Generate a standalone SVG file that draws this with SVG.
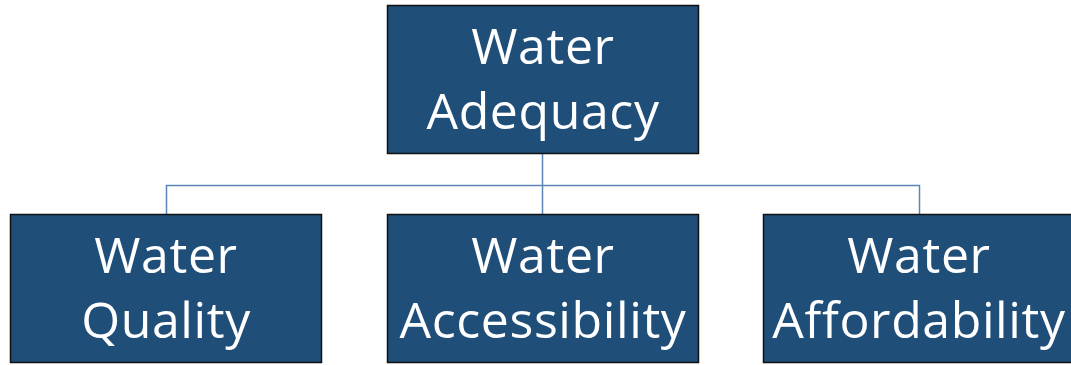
<svg xmlns="http://www.w3.org/2000/svg" width="1071" height="365" viewBox="0 0 1071 365">
<style>
.box{fill:#1f4e79;stroke:#111;stroke-width:1.5}
.t{fill:#fff;font-family:"Open Sans","Noto Sans",sans-serif;font-size:50px;letter-spacing:0.6px;text-anchor:middle}
.c{fill:none;stroke:#5b87b8;stroke-width:1.5}
</style>
<rect width="1071" height="365" fill="#fff"/>
<g id="connectors">
<path class="c" d="M542.5 154V214M166.5 214V185.5H919.5V214"/>
</g>
<g id="n-adequacy">
<rect class="box" x="387.5" y="5.5" width="311" height="148"/>
<text class="t" x="543" y="64">Water</text>
<text class="t" x="543" y="129">Adequacy</text>
</g>
<g id="n-quality">
<rect class="box" x="10.5" y="214.5" width="311" height="148"/>
<text class="t" x="166" y="273">Water</text>
<text class="t" x="166" y="338">Quality</text>
</g>
<g id="n-accessibility">
<rect class="box" x="387.5" y="214.5" width="311" height="148"/>
<text class="t" x="543" y="273">Water</text>
<text class="t" x="543" y="338">Accessibility</text>
</g>
<g id="n-affordability">
<rect class="box" x="763.5" y="214.5" width="311" height="148"/>
<text class="t" x="919" y="273">Water</text>
<text class="t" x="919" y="338">Affordability</text>
</g>
</svg>
